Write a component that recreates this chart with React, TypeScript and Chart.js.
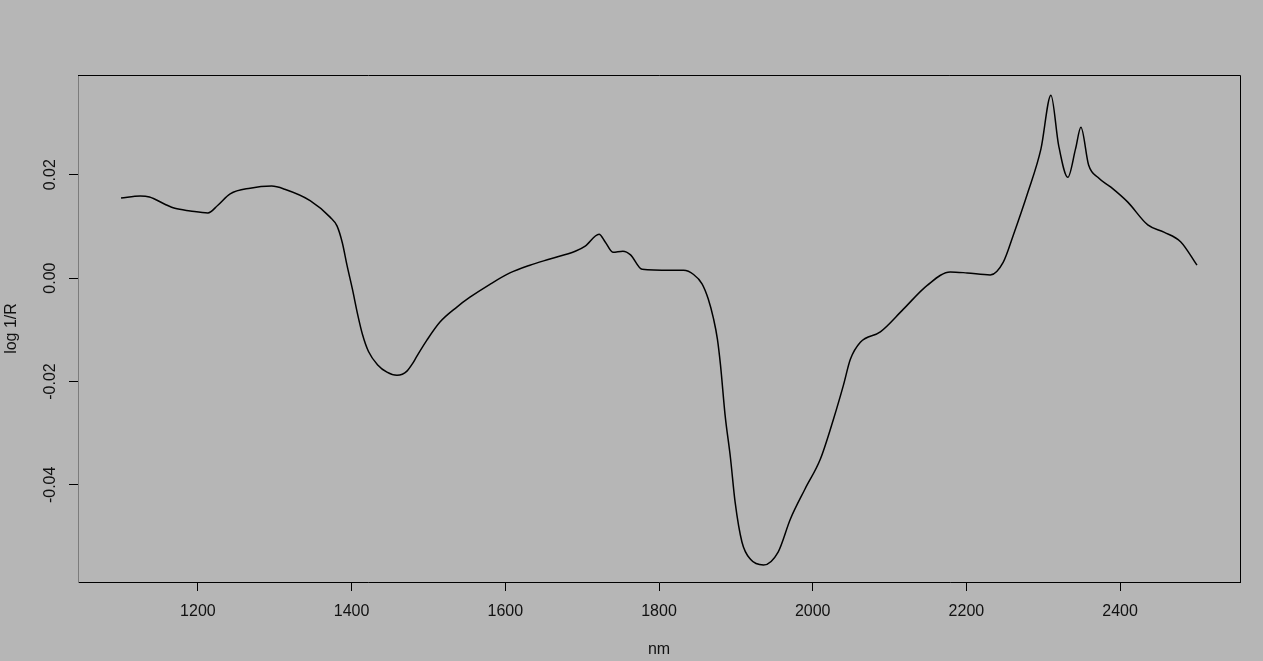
import React, { useEffect, useRef } from 'react';
import Chart from 'chart.js/auto';

// NIR spectrum
const wavelengths = [
    1100, 1125, 1137, 1157, 1170, 1190, 1213, 1226, 1242, 1268, 1296, 1313,
    1346, 1372, 1381, 1388, 1394, 1401, 1408, 1414, 1422, 1434, 1446, 1459, 1466, 1472, 1479, 1485, 1498, 1515, 1537, 1554,
    1580, 1606, 1632, 1658, 1691, 1704, 1722, 1730, 1740, 1753, 1763, 1778, 1815,
    1832, 1845, 1856, 1864, 1871, 1876, 1880, 1886, 1893, 1899,
    1908, 1919, 1936, 1955, 1971, 1990, 2010, 2027, 2040, 2049, 2062, 2088, 2118, 2149, 2179, 2201,
    2231, 2248, 2261, 2280, 2297, 2310, 2320, 2332, 2342, 2349, 2359, 2371, 2388, 2410, 2436, 2457, 2479, 2500,
];

const logR = [
    0.0155, 0.0159, 0.0157, 0.0143, 0.0135, 0.013, 0.0126, 0.0141, 0.0163, 0.0174, 0.0178, 0.0172,
    0.015, 0.0118, 0.0101, 0.0068, 0.0025, -0.0021, -0.0071, -0.0108, -0.0142, -0.0168, -0.0182, -0.0188, -0.0186, -0.018, -0.0166, -0.0151, -0.012, -0.0085, -0.0056, -0.0037,
    -0.0012, 0.001, 0.0025, 0.0037, 0.0052, 0.0062, 0.0085, 0.007, 0.005, 0.0052, 0.0045, 0.0017, 0.0015,
    0.0015, 0.0007, -0.0011, -0.0040, -0.0079, -0.0118, -0.0168, -0.0265, -0.0348, -0.0433,
    -0.0511, -0.0544, -0.0555, -0.053, -0.0466, -0.0408, -0.035, -0.0273, -0.0207, -0.0157, -0.0124, -0.0104, -0.006, -0.0014, 0.0012, 0.001,
    0.0006, 0.0031, 0.0083, 0.0166, 0.025, 0.0354, 0.0257, 0.0195, 0.025, 0.0292, 0.0219, 0.0195, 0.0176, 0.0147, 0.0103, 0.0089, 0.007, 0.0025,
];

const xTicks = [1200, 1400, 1600, 1800, 2000, 2200, 2400];
const yTicks = [-0.04, -0.02, 0.0, 0.02];

const BG = '#b6b6b6';
const FONT = { family: '"Liberation Sans", Arial, sans-serif', size: 16 };

const boxPlugin = {
    id: 'box',
    afterDraw(chart: any) {
        const { ctx, chartArea: a } = chart;
        ctx.save();
        ctx.strokeStyle = '#000';
        ctx.lineWidth = 1;
        ctx.beginPath();
        ctx.moveTo(a.left, a.top + 0.5);
        ctx.lineTo(a.right + 0.5, a.top + 0.5);
        ctx.lineTo(a.right + 0.5, a.bottom);
        ctx.stroke();
        ctx.restore();
    },
};

const SpectrumChart = () => {
    const chartRef = useRef<HTMLCanvasElement>(null);

    useEffect(() => {
        document.body.style.margin = '0';
        document.body.style.background = BG;

        const chartInstance = new Chart(chartRef.current!, {
            type: 'line',
            data: {
                datasets: [{
                    data: wavelengths.map((w, i) => ({ x: w, y: logR[i] })),
                    borderColor: '#000',
                    borderWidth: 1.5,
                    pointRadius: 0,
                    fill: false,
                    cubicInterpolationMode: 'monotone',
                }],
            },
            options: {
                animation: false,
                responsive: false,
                events: [],
                layout: { padding: { left: 0, top: 75, right: 23, bottom: 0 } },
                plugins: {
                    legend: { display: false },
                    tooltip: { enabled: false },
                },
                scales: {
                    x: {
                        type: 'linear',
                        min: 1044,
                        max: 2556,
                        afterFit: (s: any) => { s.height = 79; },
                        afterBuildTicks: (s: any) => { s.ticks = xTicks.map((v) => ({ value: v })); },
                        border: { display: true, color: '#000', width: 1 },
                        grid: { drawOnChartArea: false, drawTicks: true, tickLength: 9, color: '#000' },
                        ticks: { color: '#111', font: FONT, padding: 11, callback: (v: any) => String(v) },
                        title: { display: true, text: 'nm', color: '#111', font: FONT, padding: { top: 0, bottom: 2 } },
                    },
                    y: {
                        type: 'linear',
                        min: -0.0588,
                        max: 0.0393,
                        afterFit: (s: any) => { s.width = 78; },
                        afterBuildTicks: (s: any) => { s.ticks = yTicks.map((v) => ({ value: v })); },
                        border: { display: true, color: '#7c7c7c', width: 1 },
                        grid: { drawOnChartArea: false, drawTicks: true, tickLength: 9, color: '#000' },
                        ticks: {
                            color: '#111',
                            font: FONT,
                            padding: 0,
                            minRotation: 90,
                            maxRotation: 90,
                            crossAlign: 'center',
                            callback: (v: any) => Number(v).toFixed(2),
                        },
                        title: { display: true, text: 'log 1/R', color: '#111', font: FONT, padding: { top: 2, bottom: 0 } },
                    },
                },
            },
            plugins: [boxPlugin],
        });

        return () => {
            chartInstance.destroy();
        };
    }, []);

    return (
        <div style={{ position: 'absolute', left: 0, top: 0, width: 1263, height: 661, background: BG }}>
            <canvas ref={chartRef} width={1263} height={661} />
        </div>
    );
};

export default function App() {
    return <SpectrumChart />;
}
